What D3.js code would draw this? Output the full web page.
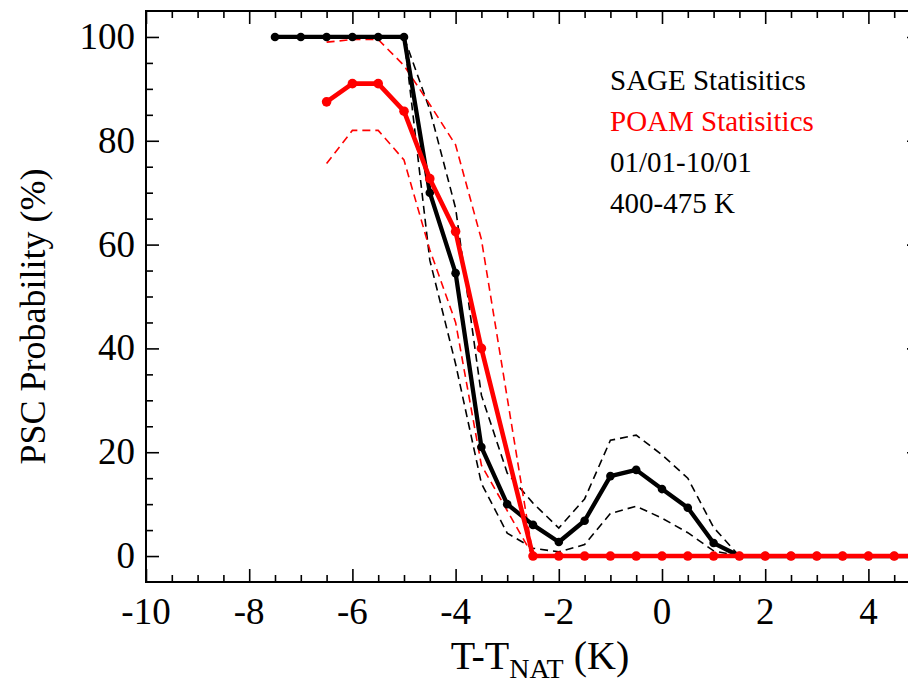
<!DOCTYPE html>
<html>
<head>
<meta charset="utf-8">
<script src="https://d3js.org/d3.v7.min.js"></script>
<style>
  html, body { margin: 0; padding: 0; background: #fff; }
  svg { display: block; }
  text { font-family: "Liberation Serif", "Times New Roman", serif; }
</style>
</head>
<body>
<svg id="chart" width="908" height="686"></svg>
<script>
// ---- data ----
const sageT = [-7.5,-7,-6.5,-6,-5.5,-5,-4.5,-4,-3.5,-3,-2.5,-2,-1.5,-1,-0.5,0,0.5,1,1.5,2,2.5,3,3.5,4,4.5,5];
const sageMean  = [100,100,100,100,100,100,70,54.5,21,10,6,2.7,6.8,15.4,16.6,12.9,9.3,2.5,0,0,0,0,0,0,0,0];
const sageUpper = [100,100,100,100,100,100,86,67,31,16,10.2,5.4,11,22.3,23.3,19.5,15,5.5,0,0,0,0,0,0,0,0];
const sageLower = [100,100,100,100,100,100,57,37,14,4.4,1.5,0.8,2.2,8.2,9.6,7.3,4.5,1.0,0,0,0,0,0,0,0,0];

const poamT = [-6.5,-6,-5.5,-5,-4.5,-4,-3.5,-2.5,-2,-1.5,-1,-0.5,0,0.5,1,1.5,2,2.5,3,3.5,4,4.5,5];
const poamMean  = [87.5,91,91,85.7,72.7,62.5,40,0,0,0,0,0,0,0,0,0,0,0,0,0,0,0,0];
const poamUpper = [99,99.5,99.5,94.5,87,79.2,61,0,0,0,0,0,0,0,0,0,0,0,0,0,0,0,0];
const poamLower = [75.6,82,82,76.3,59,45,17.5,0,0,0,0,0,0,0,0,0,0,0,0,0,0,0,0];

const xTicks = [-10,-8,-6,-4,-2,0,2,4];
const yTicks = [0,20,40,60,80,100];
const legendLines = [
  {text: "SAGE Statisitics", color: "#000"},
  {text: "POAM Statisitics", color: "#ff0000"},
  {text: "01/01-10/01", color: "#000"},
  {text: "400-475 K", color: "#000"}
];

// ---- layout ----
const svg = d3.select("#chart");
const pL = 146, pR = 920, pT = 11, pB = 582;
const x = d3.scaleLinear().domain([-10, 5]).range([pL, pR]);
const y = d3.scaleLinear().domain([-5, 105]).range([pB, pT]);

// ---- axes (ticks inward on all four sides) ----
const majorLen = 13, minorLen = 7;
const xMinor = d3.range(-10, 5.001, 0.5).filter(v => Math.abs(v % 2) > 1e-6);
const yMinor = d3.range(0, 100.001, 5).filter(v => v % 20 !== 0);

function styleAxis(g) {
  g.select(".domain").remove();
  g.selectAll("line").attr("stroke", "#000").attr("stroke-width", 1.6);
}
svg.append("g").attr("transform", `translate(0,${pB})`)
  .call(d3.axisTop(x).tickValues(xTicks).tickSize(majorLen).tickFormat(""))
  .call(styleAxis);
svg.append("g").attr("transform", `translate(0,${pB})`)
  .call(d3.axisTop(x).tickValues(xMinor).tickSize(minorLen).tickFormat(""))
  .call(styleAxis);
svg.append("g").attr("transform", `translate(0,${pT})`)
  .call(d3.axisBottom(x).tickValues(xTicks).tickSize(majorLen).tickFormat(""))
  .call(styleAxis);
svg.append("g").attr("transform", `translate(0,${pT})`)
  .call(d3.axisBottom(x).tickValues(xMinor).tickSize(minorLen).tickFormat(""))
  .call(styleAxis);
svg.append("g").attr("transform", `translate(${pL},0)`)
  .call(d3.axisRight(y).tickValues(yTicks).tickSize(majorLen).tickFormat(""))
  .call(styleAxis);
svg.append("g").attr("transform", `translate(${pL},0)`)
  .call(d3.axisRight(y).tickValues(yMinor).tickSize(minorLen).tickFormat(""))
  .call(styleAxis);
svg.append("g").attr("transform", `translate(${pR},0)`)
  .call(d3.axisLeft(y).tickValues(yTicks).tickSize(majorLen).tickFormat(""))
  .call(styleAxis);
svg.append("g").attr("transform", `translate(${pR},0)`)
  .call(d3.axisLeft(y).tickValues(yMinor).tickSize(minorLen).tickFormat(""))
  .call(styleAxis);

// frame
svg.append("rect").attr("x", pL).attr("y", pT)
  .attr("width", pR - pL).attr("height", pB - pT)
  .attr("fill", "none").attr("stroke", "#000").attr("stroke-width", 2);

// tick labels
svg.append("g").selectAll("text").data(xTicks).join("text")
  .attr("x", d => x(d)).attr("y", 624)
  .attr("text-anchor", "middle").attr("font-size", 37).text(d => d);
svg.append("g").selectAll("text").data(yTicks).join("text")
  .attr("x", 135).attr("y", d => y(d) + 12)
  .attr("text-anchor", "end").attr("font-size", 37).text(d => d);

// axis titles
const xt = svg.append("text").attr("x", 540).attr("y", 669)
  .attr("text-anchor", "middle").attr("font-size", 40);
xt.append("tspan").text("T-T");
xt.append("tspan").attr("font-size", 28).attr("dy", 9).text("NAT");
xt.append("tspan").attr("dy", -9).text(" (K)");

svg.append("text")
  .attr("transform", `translate(45,${(pT + pB) / 2 + 20}) rotate(-90)`)
  .attr("text-anchor", "middle").attr("font-size", 36)
  .text("PSC Probability (%)");

// ---- series ----
const line = d3.line().x(d => x(d[0])).y(d => y(d[1]));
const plot = svg.append("g");

function dashed(ts, vs, color) {
  plot.append("path").datum(ts.map((t, i) => [t, vs[i]]))
    .attr("d", line).attr("fill", "none").attr("stroke", color)
    .attr("stroke-width", 1.6).attr("stroke-dasharray", "8,5");
}
function solid(ts, vs, color, w, r) {
  const pts = ts.map((t, i) => [t, vs[i]]);
  plot.append("path").datum(pts)
    .attr("d", line).attr("fill", "none").attr("stroke", color)
    .attr("stroke-width", w).attr("stroke-linejoin", "round");
  plot.append("g").selectAll("circle").data(pts).join("circle")
    .attr("cx", d => x(d[0])).attr("cy", d => y(d[1])).attr("r", r)
    .attr("fill", color);
}

dashed(sageT, sageUpper, "#000");
dashed(sageT, sageLower, "#000");
dashed(poamT, poamUpper, "#ff0000");
dashed(poamT, poamLower, "#ff0000");
solid(sageT, sageMean, "#000", 4.3, 4.3);
solid(poamT, poamMean, "#ff0000", 4.6, 4.8);

// ---- legend text ----
svg.append("g").selectAll("text").data(legendLines).join("text")
  .attr("x", 610).attr("y", (d, i) => 90 + i * 41)
  .attr("font-size", 29).attr("fill", d => d.color).text(d => d.text);
</script>
</body>
</html>
